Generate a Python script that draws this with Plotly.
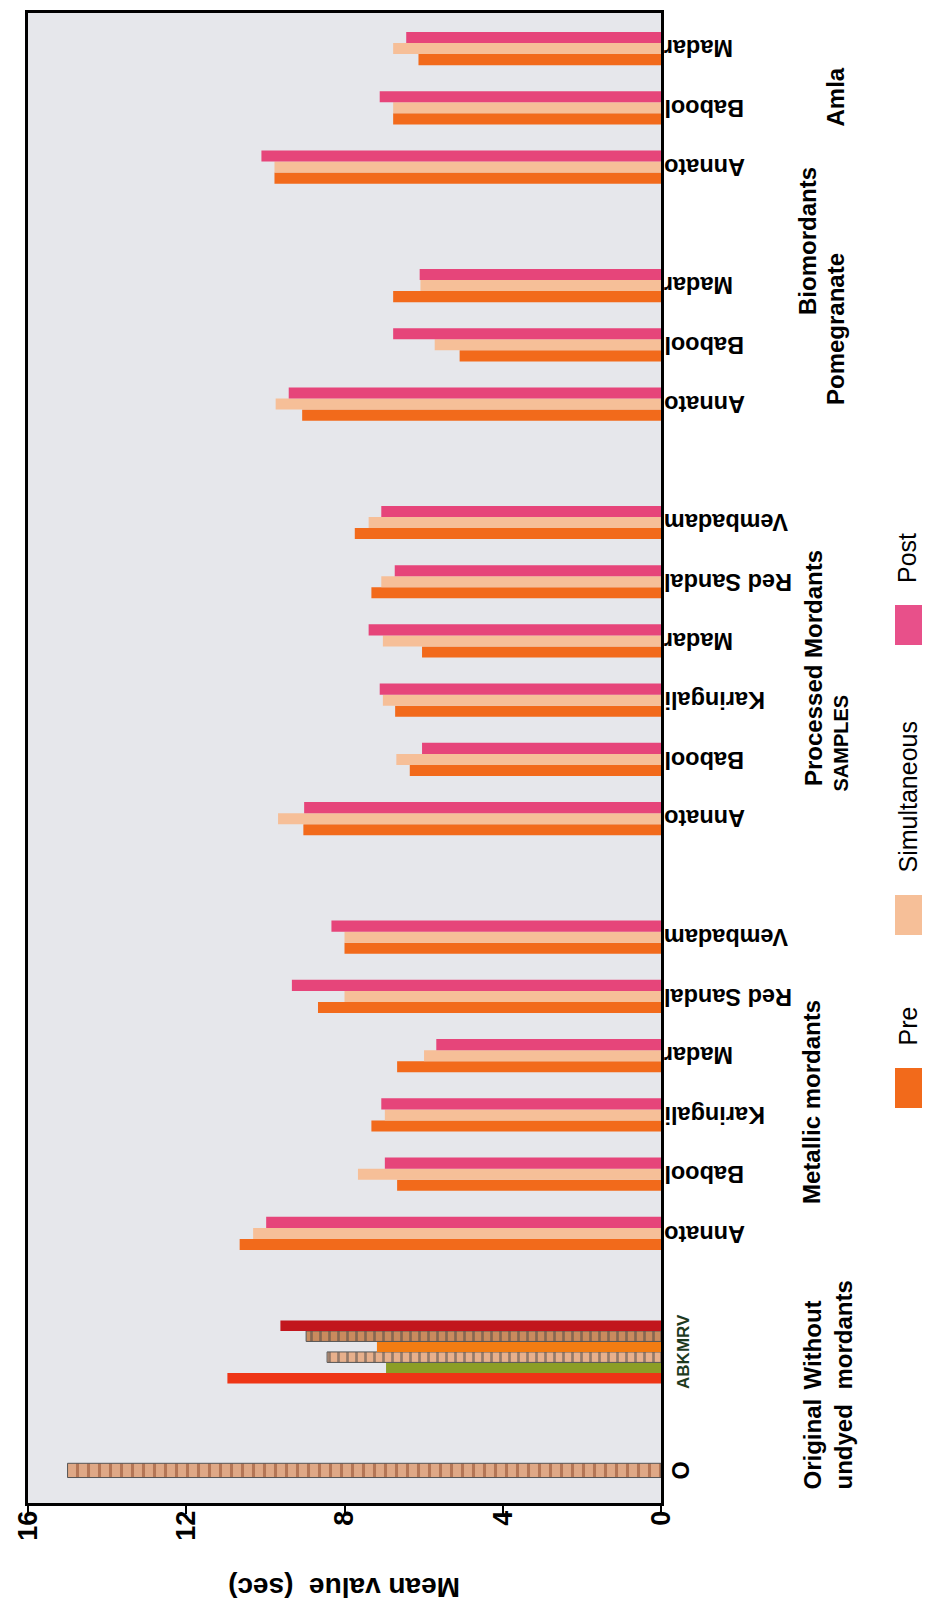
import plotly.graph_objects as go

# ---------------- data ----------------
metallic_labels = ["Annato", "Babool", "Karingali", "Madar", "Red Sandal", "Vembadam"]
processed_labels = ["Annato", "Babool", "Karingali", "Madar", "Red Sandal", "Vembadam"]
pomegranate_labels = ["Annato", "Babool", "Madar"]
amla_labels = ["Annato", "Babool", "Madar"]

pre_metallic = [10.65, 6.67, 7.32, 6.67, 8.67, 8.00]
sim_metallic = [10.31, 7.66, 6.98, 5.99, 8.00, 8.00]
post_metallic = [9.98, 6.98, 7.07, 5.68, 9.33, 8.33]

pre_processed = [9.04, 6.35, 6.72, 6.04, 7.32, 7.74]
sim_processed = [9.68, 6.69, 7.03, 7.03, 7.07, 7.39]
post_processed = [9.02, 6.04, 7.11, 7.39, 6.73, 7.07]

pre_pomegranate = [9.07, 5.09, 6.77]
sim_pomegranate = [9.74, 5.72, 6.08]
post_pomegranate = [9.41, 6.77, 6.10]

pre_amla = [9.77, 6.77, 6.13]
sim_amla = [9.77, 6.77, 6.77]
post_amla = [10.10, 7.11, 6.44]

without_labels = ["A", "B", "K", "M", "R", "V"]
without_values = [10.96, 6.95, 8.44, 7.18, 8.97, 9.62]
original_values = [15.0]
x_ticks = [0, 4, 8, 12, 16]

# ---------------- layout geometry ----------------
W, H = 930, 1600
PL, PR, PT, PB = 20, 653, 5, 1495
FONT = "Liberation Sans, Arial, sans-serif"
RX = -10  # horizontal correction for rotated text


def px_x(px):
    return (px - PL) / (PR - PL)


def px_y(py):
    return (PB - py) / (PB - PT)


# category slots (one blank slot between groups)
slot = 0
o_slot = slot
slot += 2
abk_slot = slot
slot += 2
met_slots = list(range(slot, slot + len(metallic_labels)))
slot += len(metallic_labels) + 1
proc_slots = list(range(slot, slot + len(processed_labels)))
slot += len(processed_labels) + 1
pom_slots = list(range(slot, slot + len(pomegranate_labels)))
slot += len(pomegranate_labels) + 1
amla_slots = list(range(slot, slot + len(amla_labels)))

three_slots = met_slots + proc_slots + pom_slots + amla_slots
three_labels = metallic_labels + processed_labels + pomegranate_labels + amla_labels
pre_all = pre_metallic + pre_processed + pre_pomegranate + pre_amla
sim_all = sim_metallic + sim_processed + sim_pomegranate + sim_amla
post_all = post_metallic + post_processed + post_pomegranate + post_amla

BW = 0.187
C_PRE, C_SIM, C_POST = "#f26a1b", "#f6bf98", "#e6457a"

fig = go.Figure()
for name, vals, col, k in [("Pre", pre_all, C_PRE, 0), ("Simultaneous", sim_all, C_SIM, 1),
                           ("Post", post_all, C_POST, 2)]:
    fig.add_trace(go.Bar(
        name=name, orientation="h", x=vals, y=three_slots,
        width=BW, offset=-1.5 * BW + k * BW,
        marker=dict(color=col, line=dict(width=0)),
        showlegend=False,
    ))

# Without mordants (six dyes)
abk_colors = ["#ee3516", "#8c9e26", "#e7b08c", "#f27c12", "#c98b5e", "#c2161d"]
abk_patterns = ["", "", "|", "", "|", ""]
abk_fg = ["#000000", "#000000", "#9a5532", "#000000", "#7b2e1a", "#000000"]
abk_line = ["rgba(0,0,0,0)", "rgba(0,0,0,0)", "#555555", "rgba(0,0,0,0)", "#555555", "rgba(0,0,0,0)"]
abk_lw = [0, 0, 1, 0, 1, 0]
abw = 0.177
fig.add_trace(go.Bar(
    orientation="h", x=without_values, y=[abk_slot] * len(without_values),
    width=abw, offset=[-3 * abw + i * abw for i in range(len(without_values))],
    text=without_labels, textposition="none",
    marker=dict(color=abk_colors, line=dict(color=abk_line, width=abk_lw),
                pattern=dict(shape=abk_patterns, fgcolor=abk_fg, fillmode="overlay",
                             size=9, solidity=0.3)),
    showlegend=False,
))

# Original undyed
fig.add_trace(go.Bar(
    orientation="h", x=original_values, y=[o_slot], width=0.24, offset=-0.12,
    marker=dict(color="#dfa886", line=dict(color="#555555", width=1),
                pattern=dict(shape="|", fgcolor="#8a4326", fillmode="overlay",
                             size=11, solidity=0.28)),
    showlegend=False,
))

ann = []
# category labels (upside down)
for s, lab in zip(three_slots, three_labels):
    ann.append(dict(x=1, xref="paper", y=s, yref="y", text=lab, showarrow=False,
                    textangle=180, xanchor="left", yanchor="middle", xshift=11 + RX,
                    font=dict(family=FONT, size=23.5, color="black", weight="bold")))
ann.append(dict(x=1, xref="paper", y=o_slot, yref="y", text="O", showarrow=False,
                textangle=-90, xanchor="center", yanchor="middle", xshift=30 + RX,
                font=dict(family=FONT, size=23.5, color="black", weight="bold")))
ann.append(dict(x=1, xref="paper", y=abk_slot, yref="y", text="ABKMRV", showarrow=False,
                textangle=-90, xanchor="center", yanchor="middle", xshift=33 + RX,
                font=dict(family=FONT, size=17, color="#1e3a1e", weight="bold")))


# group labels (rotated, bottom-aligned)
def glabel(text, xc, ybottom, size=24, weight="bold"):
    ann.append(dict(x=px_x(xc + RX), xref="paper", y=px_y(ybottom), yref="paper", text=text,
                    showarrow=False, textangle=-90, xanchor="center", yanchor="bottom",
                    align="left",
                    font=dict(family=FONT, size=size, color="black", weight=weight)))


glabel("Original<br>undyed", 829, 1484)
glabel("Without<br>mordants", 829, 1384)
glabel("Metallic mordants", 813, 1198)
glabel("Processed Mordants", 815, 780)
glabel("SAMPLES", 842, 786, size=20)
glabel("Biomordants", 809, 309)
glabel("Pomegranate", 837, 399)
glabel("Amla", 837, 121)

# axis title (upside down)
ann.append(dict(x=0.5, xref="paper", y=px_y(1580), yref="paper", text="Mean value  (sec)",
                showarrow=False, textangle=180, xanchor="center", yanchor="middle",
                font=dict(family=FONT, size=28, color="black", weight="bold")))

# manual legend (rotated)
shapes = []
legend_items = [("Pre", C_PRE, 1060), ("Simultaneous", C_SIM, 887), ("Post", "#e8508a", 597)]
for name, col, ytop in legend_items:
    shapes.append(dict(type="rect", xref="paper", yref="paper",
                       x0=px_x(887), x1=px_x(928), y0=px_y(ytop + 40), y1=px_y(ytop),
                       fillcolor=col, line=dict(width=0)))
    ann.append(dict(x=px_x(909 + RX), xref="paper", y=px_y(ytop - 20), yref="paper", text=name,
                    showarrow=False, textangle=-90, xanchor="center", yanchor="bottom",
                    font=dict(family=FONT, size=25, color="black")))

fig.update_layout(
    width=W, height=H,
    margin=dict(l=PL, r=W - PR, t=PT, b=H - PB, pad=0),
    paper_bgcolor="white", plot_bgcolor="#e6e7eb",
    barmode="overlay", showlegend=False,
    annotations=ann, shapes=shapes,
    font=dict(family=FONT, color="black"),
    xaxis=dict(range=[16, 0], tickvals=x_ticks, ticktext=[str(t) for t in x_ticks],
               ticks="outside", ticklen=8, tickwidth=2, tickcolor="black",
               showline=True, linewidth=3, linecolor="black", mirror=True,
               showgrid=False, zeroline=False, tickangle=-90, automargin=False,
               ticklabelposition="outside", ticklabelstandoff=-14,
               tickfont=dict(family=FONT, size=27, color="black", weight="bold")),
    yaxis=dict(range=[-0.55, 24.6], showticklabels=False, ticks="",
               showline=True, linewidth=3, linecolor="black", mirror=True, side="right",
               showgrid=False, zeroline=False, automargin=False),
)

fig.write_html("out.html")
